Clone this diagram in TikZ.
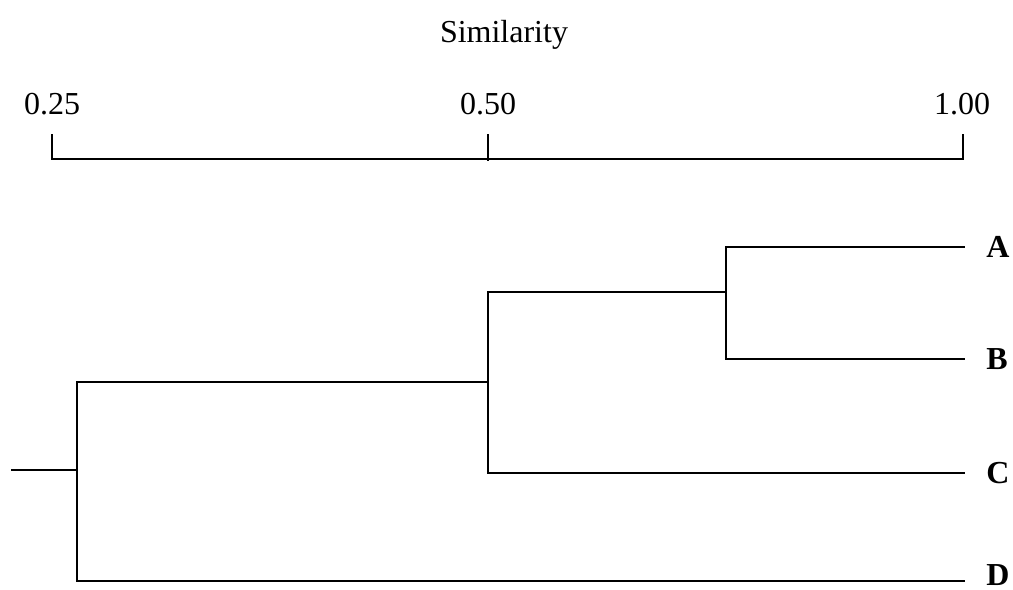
\documentclass[tikz,border=0pt]{standalone}
\usepackage{fontspec}
\setmainfont{Liberation Serif}
\begin{document}
\begin{tikzpicture}[x=0.75pt,y=-0.75pt,
  branch/.style={line width=1.8pt, line cap=rect},
  toleaf/.style={branch, shorten >=17pt},
  leaf/.style={font=\fontsize{24}{29}\selectfont\bfseries, anchor=west, inner sep=0pt},
  scalelabel/.style={font=\fontsize{24}{29}\selectfont, inner sep=0pt},
  title/.style={font=\fontsize{24}{29}\selectfont, inner sep=0pt}]
\useasboundingbox (0,0) rectangle (1013,589);

% axis title and scale labels
\node[title] (sim) at (504,35) {Similarity};
\node[scalelabel] (s25) at (52,104) {0.25};
\node[scalelabel] (s50) at (488,104) {0.50};
\node[scalelabel] (s100) at (962,104) {1.00};

% scale bar
\coordinate (t0) at (52,135);
\coordinate (b0) at (52,159);
\coordinate (t1) at (488,135);
\coordinate (b1) at (488,160);
\coordinate (t2) at (963,135);
\coordinate (b2) at (963,159);
\draw[branch] (t0) -- (b0) -- (b2) -- (t2);
\draw[branch] (t1) -- (b1);

% leaves
\node[leaf] (A) at (986,247) {A};
\node[leaf] (B) at (986,359) {B};
\node[leaf] (C) at (986,473) {C};
\node[leaf] (D) at (986,575) {D};

% merge points
\coordinate (ab) at (726,292);
\coordinate (abc) at (488,382);
\coordinate (root) at (77,470);
\coordinate (stub) at (12,470);

% tree
\draw[toleaf] (ab) |- (A.west);
\draw[toleaf] (ab) |- (B.west);
\draw[branch] (ab) -| (abc);
\draw[toleaf] (abc) |- (C.west);
\draw[branch] (abc) -| (root);
\draw[toleaf] (root) |- ([yshift=-4.5pt]D.west);
\draw[branch] (stub) -- (root);
\end{tikzpicture}
\end{document}
